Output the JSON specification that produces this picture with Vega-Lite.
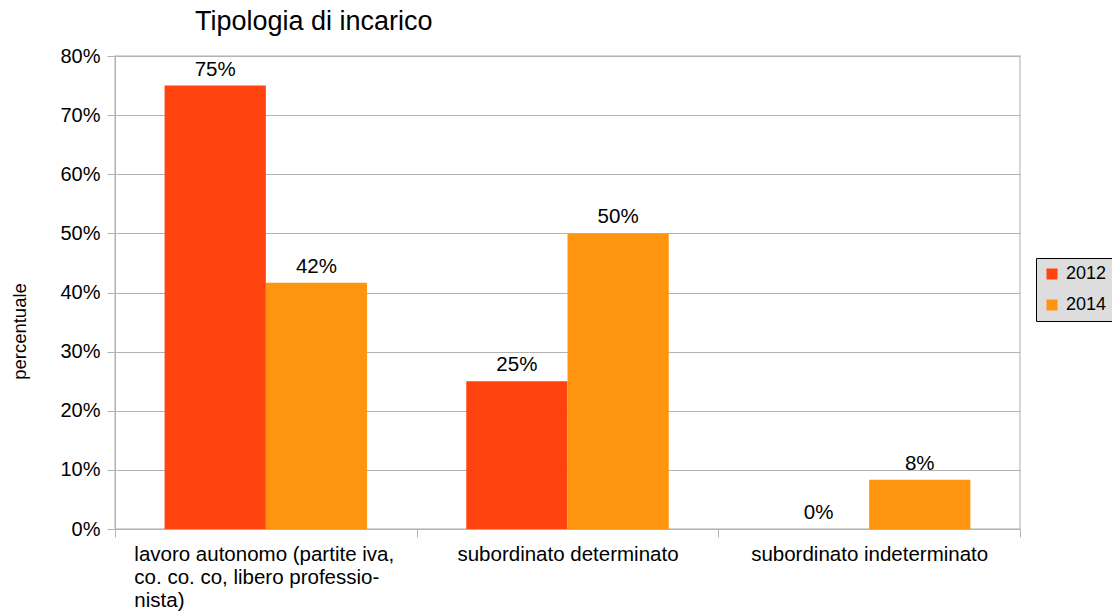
{
  "$schema": "https://vega.github.io/schema/vega-lite/v6.json",
  "autosize": {"type": "none"},
  "width": 905,
  "height": 473,
  "padding": {"left": 115, "top": 56, "right": 92, "bottom": 87},
  "background": "white",
  "title": {
    "text": "Tipologia di incarico",
    "anchor": "start",
    "frame": "group",
    "dx": 80,
    "dy": 27,
    "fontSize": 27,
    "font": "Liberation Sans",
    "fontWeight": "normal",
    "color": "#000000",
    "baseline": "alphabetic",
    "offset": 16
  },
  "config": {
    "font": "Liberation Sans",
    "view": {"stroke": "#c8c8c8", "strokeWidth": 1.5}
  },
  "data": {
    "values": [
      {"categoria": "lavoro autonomo (partite iva, co. co. co, libero professionista)", "anno": "2012", "valore": 0.75},
      {"categoria": "lavoro autonomo (partite iva, co. co. co, libero professionista)", "anno": "2014", "valore": 0.4167},
      {"categoria": "subordinato determinato", "anno": "2012", "valore": 0.25},
      {"categoria": "subordinato determinato", "anno": "2014", "valore": 0.5},
      {"categoria": "subordinato indeterminato", "anno": "2012", "valore": 0.0},
      {"categoria": "subordinato indeterminato", "anno": "2014", "valore": 0.0833}
    ]
  },
  "encoding": {
    "x": {
      "field": "categoria",
      "type": "nominal",
      "sort": null,
      "scale": {"paddingInner": 0, "paddingOuter": 0},
      "axis": {
        "title": null,
        "labelAngle": 0,
        "labelFontSize": 20.5,
        "labelColor": "#000000",
        "labelLineHeight": 23,
        "labelPadding": 7,
        "labelLimit": 0,
        "tickBand": "extent",
        "tickSize": 8,
        "tickColor": "#b3b3b3",
        "domainColor": "#b3b3b3",
        "labelExpr": "datum.value == 'lavoro autonomo (partite iva, co. co. co, libero professionista)' ? ['lavoro autonomo (partite iva,', 'co. co. co, libero professio-', 'nista)'] : datum.value",
        "labelAlign": {"condition": {"test": "datum.value == 'lavoro autonomo (partite iva, co. co. co, libero professionista)'", "value": "left"}, "value": "center"},
        "labelOffset": {"condition": {"test": "datum.value == 'lavoro autonomo (partite iva, co. co. co, libero professionista)'", "value": -132}, "value": 0}
      }
    },
    "xOffset": {
      "field": "anno",
      "type": "nominal",
      "scale": {"paddingInner": 0, "paddingOuter": 0.49}
    },
    "y": {
      "field": "valore",
      "type": "quantitative",
      "scale": {"domain": [0, 0.8], "nice": false},
      "axis": {
        "values": [0, 0.1, 0.2, 0.3, 0.4, 0.5, 0.6, 0.7, 0.8],
        "format": ".0%",
        "labelFontSize": 20,
        "labelColor": "#000000",
        "labelPadding": 7,
        "tickSize": 8,
        "tickColor": "#b3b3b3",
        "domainColor": "#b3b3b3",
        "gridColor": "#b3b3b3",
        "title": "percentuale",
        "titleFontSize": 18.5,
        "titleFontWeight": "normal",
        "titleColor": "#000000",
        "titleX": -96,
        "titleY": 275,
        "titleAngle": -90,
        "titleBaseline": "middle",
        "titleAlign": "center"
      }
    }
  },
  "layer": [
    {
      "mark": {"type": "bar"},
      "encoding": {
        "color": {
          "field": "anno",
          "type": "nominal",
          "scale": {"domain": ["2012", "2014"], "range": ["#ff420e", "#ff950e"]},
          "legend": {
            "title": null,
            "orient": "none",
            "legendX": 921,
            "legendY": 202,
            "fillColor": "#dddddd",
            "strokeColor": "#000000",
            "padding": 7,
            "symbolType": "square",
            "symbolSize": 121,
            "symbolStrokeWidth": 0,
            "symbolOpacity": 1,
            "labelFontSize": 18,
            "labelColor": "#000000",
            "labelOffset": 5,
            "rowPadding": 13
          }
        }
      }
    },
    {
      "mark": {"type": "text", "baseline": "alphabetic", "align": "center", "dy": -10, "fontSize": 20.5, "color": "#000000"},
      "encoding": {
        "text": {"field": "valore", "type": "quantitative", "format": ".0%"}
      }
    }
  ]
}
